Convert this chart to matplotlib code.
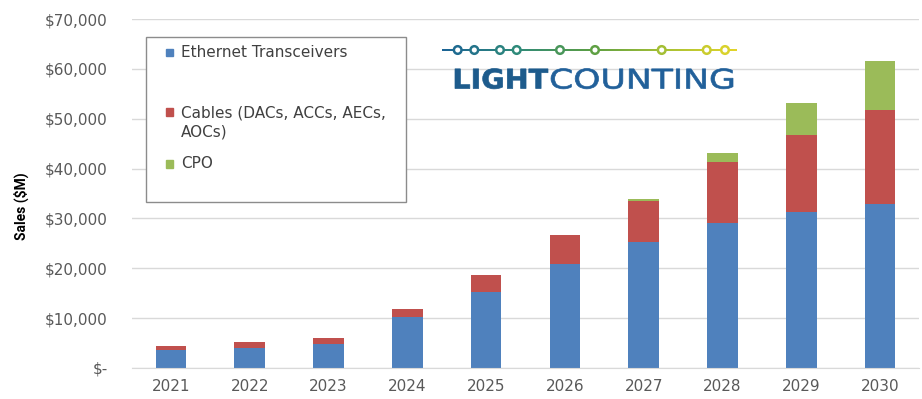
import numpy as np
import matplotlib
matplotlib.use("Agg")
import matplotlib.pyplot as plt
from matplotlib.patches import Rectangle, PathPatch
from matplotlib.colors import LinearSegmentedColormap
from matplotlib.textpath import TextPath
from matplotlib.font_manager import FontProperties
from matplotlib.transforms import Affine2D
from matplotlib.ticker import FuncFormatter

# Sales forecast, $M
years = ["2021", "2022", "2023", "2024", "2025", "2026", "2027", "2028", "2029", "2030"]
ethernet = [3700, 4050, 4850, 10200, 15200, 20800, 25250, 29050, 31200, 32950]
cables = [800, 1100, 1100, 1700, 3500, 5900, 8300, 12200, 15550, 18750]
cpo = [0, 0, 0, 0, 0, 0, 300, 1950, 6400, 9900]

series_names = ["Ethernet Transceivers", "Cables (DACs, ACCs, AECs,\nAOCs)", "CPO"]
series_colors = ["#4f81bd", "#c0504d", "#9bbb59"]

W, H = 922, 399
fig = plt.figure(figsize=(W / 100, H / 100), dpi=100)
ax = fig.add_axes([131.6 / W, 31 / H, 787.8 / W, 349 / H])

x = np.arange(len(years))
bottom = np.zeros(len(years))
for vals, color in zip([ethernet, cables, cpo], series_colors):
    ax.bar(x, vals, width=0.39, bottom=bottom, color=color, zorder=2)
    bottom += np.array(vals)

ax.set_xlim(-0.5, len(years) - 0.5)
ax.set_ylim(0, 70000)
ax.set_yticks(np.arange(0, 70001, 10000))
ax.yaxis.set_major_formatter(FuncFormatter(lambda v, _: "$-" if v == 0 else f"${v:,.0f}"))
ax.set_xticks(x, years)
ax.grid(axis="y", color="#d9d9d9", lw=1, zorder=0)
ax.set_axisbelow(True)
for s in ["top", "right", "left"]:
    ax.spines[s].set_visible(False)
ax.spines["bottom"].set_color("#d9d9d9")
ax.tick_params(length=0, labelsize=11, labelcolor="#595959")
ax.tick_params(axis="y", pad=17)
ax.tick_params(axis="x", pad=8)
ax.set_ylabel("Sales ($M)", fontweight="bold", fontsize=10, family=["Roboto", "DejaVu Sans"])
ax.yaxis.set_label_coords((29 - 131.6) / 787.8, 0.464)

# overlay in pixel coordinates for the legend box and logo
ov = fig.add_axes([0, 0, 1, 1], zorder=3)

ov.add_patch(Rectangle((146, 36.7), 259.7, 165.3, fc="white", ec="#8c8c8c", lw=1))
legend_rows = [52.5, 122.5, 164]
swatch_rows = [52.5, 112, 164]
for name, color, ty, sy in zip(series_names, series_colors, legend_rows, swatch_rows):
    ov.add_patch(Rectangle((166, sy - 3.7), 7.3, 7.3, color=color))
    ov.text(181, ty, name, va="center", ha="left", fontsize=11,
            color="#404040", linespacing=1.35)

# logo: gradient line with rings
cmap = LinearSegmentedColormap.from_list(
    "lc", ["#1b6396", "#2f8a7a", "#5a9e45", "#a5c035", "#e3d52a"])
x0, x1, ly = 442, 737, 50
ov.imshow(np.linspace(0, 1, 256)[None, :], cmap=cmap, aspect="auto",
          extent=(x0, x1, ly + 0.9, ly - 0.9), interpolation="bilinear")
rings = np.array([457.7, 474.3, 500, 516.7, 560, 595, 661.7, 706.7, 725])
ov.scatter(rings, np.full(len(rings), ly), s=30, facecolors="white",
           edgecolors=cmap((rings - x0) / (x1 - x0)), linewidths=1.8, zorder=4)


def word(s, weight, left, width, base, cap, color):
    tp = TextPath((0, 0), s, size=1, prop=FontProperties(family="DejaVu Sans", weight=weight))
    ext = tp.get_extents()
    tr = (Affine2D().translate(-ext.x0, 0)
          .scale(width / ext.width, -cap / ext.y1)
          .translate(left, base))
    ov.add_patch(PathPatch(tr.transform_path(tp), fc=color, ec=color, lw=0.5))


word("LIGHT", "bold", 455, 93, 88.5, 20, "#1d5b8c")
word("COUNTING", "normal", 551, 182, 88.5, 20, "#21609a")

ov.set_xlim(0, W)
ov.set_ylim(H, 0)
ov.axis("off")

fig.savefig("out.png", dpi=100)
